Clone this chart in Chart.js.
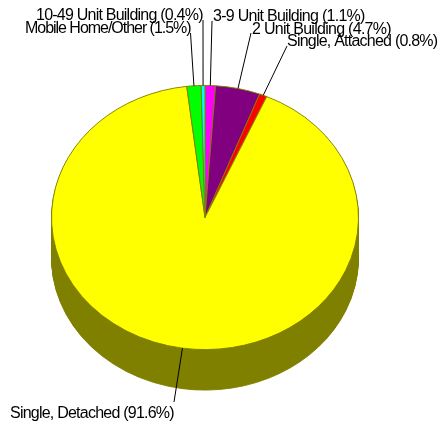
<!DOCTYPE html>
<html>
<head>
<meta charset="utf-8">
<title>Housing units by structure type</title>
<script src="https://cdn.jsdelivr.net/npm/chart.js@4"></script>
<style>
    html, body { margin: 0; padding: 0; background: #fff; }
    canvas { display: block; }
</style>
</head>
<body>
<canvas id="pie-chart" width="441" height="426"></canvas>
<script>
const categories = ['3-9 Unit Building', '2 Unit Building', 'Single, Attached', 'Single, Detached', 'Mobile Home/Other', '10-49 Unit Building'];
const percents = [1.1, 4.7, 0.8, 91.6, 1.5, 0.4];
const sliceColors = ['#ff00ff', '#800080', '#ff0000', '#ffff00', '#00ff00', '#00ffff'];
const sideColors = ['#800080', '#400040', '#800000', '#808000', '#008000', '#008080'];

// where each label's text starts, and where its leader line stops
const labelSpots = [
    { x: 213, y: 21, lineX: 212, lineY: 21, spacing: -0.72 },
    { x: 252, y: 34, lineX: 251, lineY: 33, spacing: -0.72 },
    { x: 287, y: 46, lineX: 287, lineY: 46, spacing: -0.77 },
    { x: 10, y: 418, lineX: 174, lineY: 402, spacing: -0.77 },
    { x: 25, y: 33, lineX: 190.5, lineY: 33, spacing: -1.03 },
    { x: 36, y: 20, lineX: 203, lineY: 20, spacing: -0.77 }
];

const squash = 132.5 / 154;
const depth = 40.5;

function squashContext(ctx, arc) {
    ctx.translate(arc.x, arc.y);
    ctx.scale(1, squash);
    ctx.translate(-arc.x, -arc.y);
}

const tiltPlugin = {
    id: 'tilt',
    beforeDatasetsDraw(chart) {
        const ctx = chart.ctx;
        const arcs = chart.getDatasetMeta(0).data;

        // the rim: the same arcs again, shifted down and darker
        for (let d = depth; d >= 1; d--) {
            arcs.forEach((arc, i) => {
                const fill = arc.options.backgroundColor;
                const edge = arc.options.borderColor;
                arc.options.backgroundColor = sideColors[i];
                arc.options.borderColor = sideColors[i];
                ctx.save();
                ctx.translate(0, d);
                squashContext(ctx, arc);
                arc.draw(ctx);
                ctx.restore();
                arc.options.backgroundColor = fill;
                arc.options.borderColor = edge;
            });
        }

        ctx.save();
        squashContext(ctx, arcs[0]);
    },
    afterDatasetsDraw(chart) {
        const ctx = chart.ctx;
        ctx.restore();

        const arcs = chart.getDatasetMeta(0).data;
        ctx.save();
        ctx.strokeStyle = '#000';
        ctx.lineWidth = 1;
        ctx.fillStyle = '#000';
        ctx.font = '16px "Liberation Sans"';
        ctx.textBaseline = 'alphabetic';
        arcs.forEach((arc, i) => {
            const mid = (arc.startAngle + arc.endAngle) / 2;
            const spot = labelSpots[i];
            ctx.beginPath();
            ctx.moveTo(arc.x + Math.cos(mid) * arc.outerRadius, arc.y + Math.sin(mid) * arc.outerRadius * squash);
            ctx.lineTo(spot.lineX, spot.lineY);
            ctx.stroke();
            ctx.letterSpacing = spot.spacing + 'px';
            ctx.fillText(categories[i] + ' (' + percents[i].toFixed(1) + '%)', spot.x, spot.y);
        });
        ctx.restore();
    }
};

new Chart(document.getElementById('pie-chart').getContext('2d'), {
    type: 'pie',
    data: {
        labels: categories,
        datasets: [{
            data: percents,
            backgroundColor: sliceColors,
            borderColor: '#808000',
            borderWidth: 1,
            clip: false
        }]
    },
    options: {
        responsive: false,
        animation: false,
        layout: { padding: { left: 51, right: 82, top: 63.5, bottom: 54.5 } },
        plugins: {
            legend: { display: false },
            tooltip: { enabled: false },
            title: { display: false }
        }
    },
    plugins: [tiltPlugin]
});
</script>
</body>
</html>
